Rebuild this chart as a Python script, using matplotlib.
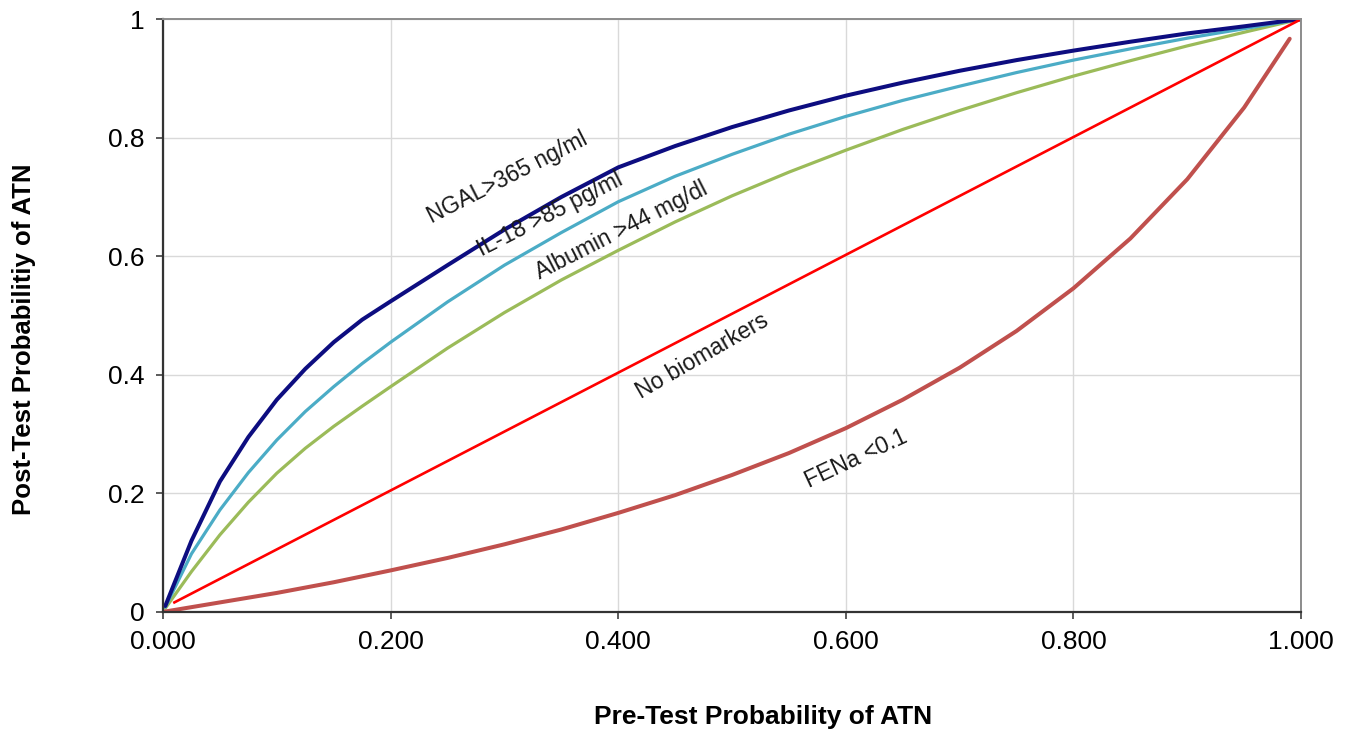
import matplotlib
matplotlib.use('Agg')
import matplotlib.pyplot as plt

plt.rcParams['font.family'] = ['Liberation Sans', 'DejaVu Sans']

# Pre-test probability (x) and post-test probability
pre_test = [0.002, 0.025, 0.05, 0.075, 0.1, 0.125, 0.15, 0.175, 0.2, 0.25, 0.3, 0.35, 0.4, 0.45,
            0.5, 0.55, 0.6, 0.65, 0.7, 0.75, 0.8, 0.85, 0.9, 0.95, 0.99, 1.0]
ngal = [0.010, 0.120, 0.220, 0.295, 0.358, 0.410, 0.455, 0.493, 0.524, 0.585, 0.645, 0.700, 0.750,
        0.786, 0.818, 0.846, 0.871, 0.893, 0.913, 0.931, 0.947, 0.962, 0.976, 0.988, 0.998, 1.0]
il18 = [0.008, 0.098, 0.172, 0.235, 0.290, 0.338, 0.380, 0.419, 0.455, 0.523, 0.585, 0.640, 0.692,
        0.735, 0.772, 0.806, 0.836, 0.863, 0.887, 0.910, 0.931, 0.950, 0.968, 0.984, 0.997, 1.0]
albumin = [0.006, 0.068, 0.130, 0.185, 0.234, 0.276, 0.313, 0.347, 0.380, 0.445, 0.505, 0.560, 0.610,
           0.658, 0.702, 0.742, 0.779, 0.814, 0.846, 0.876, 0.904, 0.930, 0.955, 0.978, 0.996, 1.0]
no_marker_x = [0.01, 1.0]
no_marker_y = [0.016, 1.0]
fena_x = [0.0, 0.025, 0.05, 0.075, 0.1, 0.15, 0.2, 0.25, 0.3, 0.35, 0.4, 0.45,
          0.5, 0.55, 0.6, 0.65, 0.7, 0.75, 0.8, 0.85, 0.9, 0.95, 0.99]
fena = [0.0, 0.008, 0.016, 0.024, 0.032, 0.050, 0.070, 0.091, 0.114, 0.139, 0.167, 0.197,
        0.231, 0.268, 0.310, 0.358, 0.412, 0.474, 0.546, 0.630, 0.730, 0.851, 0.967]

x_ticks = [0.0, 0.2, 0.4, 0.6, 0.8, 1.0]
x_labels = ['0.000', '0.200', '0.400', '0.600', '0.800', '1.000']
y_ticks = [0.0, 0.2, 0.4, 0.6, 0.8, 1.0]
y_labels = ['0', '0.2', '0.4', '0.6', '0.8', '1']

fig = plt.figure(figsize=(13.55, 7.39), dpi=100)
ax = fig.add_axes([0.1203, 0.172, 0.8399, 0.802])

ax.plot(pre_test, albumin, color='#9BBB59', lw=2.3, solid_capstyle='round')
ax.plot(pre_test, il18, color='#4BACC6', lw=2.3, solid_capstyle='round')
ax.plot(pre_test, ngal, color='#0D0D80', lw=2.9, solid_capstyle='round')
ax.plot(no_marker_x, no_marker_y, color='#FF0000', lw=1.9)
ax.plot(fena_x, fena, color='#C0504D', lw=2.9, solid_capstyle='round')

# curve labels
lab_kw = dict(fontsize=16.5, ha='center', va='center', color='#1a1a1a')
ax.text(0.303, 0.733, 'NGAL>365 ng/ml', rotation=27, **lab_kw)
ax.text(0.340, 0.670, 'IL-18 >85 pg/ml', rotation=27, **lab_kw)
ax.text(0.403, 0.644, 'Albumin >44 mg/dl', rotation=27, **lab_kw)
ax.text(0.474, 0.432, 'No biomarkers', rotation=30, **lab_kw)
ax.text(0.609, 0.258, 'FENa <0.1', rotation=25, **lab_kw)

ax.set_xlim(0, 1)
ax.set_ylim(0, 1)
ax.set_xticks(x_ticks)
ax.set_xticklabels(x_labels)
ax.set_yticks(y_ticks)
ax.set_yticklabels(y_labels)
ax.tick_params(labelsize=19, length=5, width=1.2, color='#404040', pad=8)
ax.grid(True, color='#D9D9D9', lw=1.0)
ax.set_axisbelow(True)

for side in ['left', 'bottom']:
    ax.spines[side].set_color('#333333')
    ax.spines[side].set_linewidth(1.6)
for side in ['top', 'right']:
    ax.spines[side].set_color('#8C8C8C')
    ax.spines[side].set_linewidth(1.4)

ax.set_xlabel('Pre-Test Probability of ATN', fontsize=19, fontweight='bold')
ax.set_ylabel('Post-Test Probabilitiy of ATN', fontsize=18.5, fontweight='bold')
ax.xaxis.set_label_coords(0.527, -0.157)
ax.yaxis.set_label_coords(-0.112, 0.46)

fig.savefig('out.png', dpi=100, facecolor='white')
